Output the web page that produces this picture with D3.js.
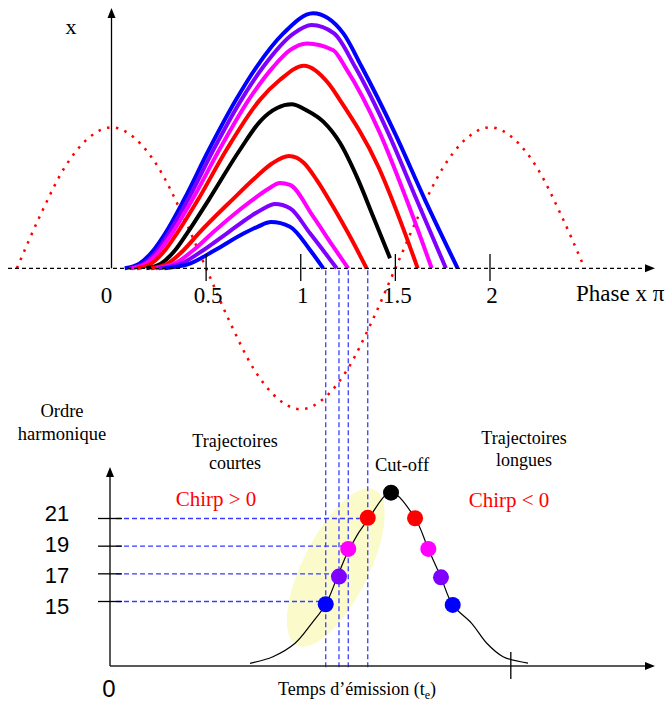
<!DOCTYPE html>
<html>
<head>
<meta charset="utf-8">
<script src="https://cdn.jsdelivr.net/npm/d3@7"></script>
<style>
  body { margin: 0; background: #fff; }
</style>
</head>
<body>
<script>
// ---- top panel data (phase in units of pi, x in units of field amplitude)
const phaseTicks = [0.5, 1, 1.5, 2];
const phaseLabels = ["0", "0.5", "1", "1.5", "2"];
const phaseLabelPos = [0, 0.5, 1, 1.5, 2];

const fieldPhase = [-0.5, -0.375, -0.25, -0.125, 0, 0.125, 0.25, 0.375, 0.5, 0.625, 0.75, 0.875, 1,
  1.125, 1.25, 1.375, 1.5, 1.625, 1.75, 1.875, 2, 2.125, 2.25, 2.375, 2.5];
const fieldValue = [0, 0.38, 0.71, 0.92, 1, 0.92, 0.71, 0.38, 0, -0.38, -0.71, -0.92, -1,
  -0.92, -0.71, -0.38, 0, 0.38, 0.71, 0.92, 1, 0.92, 0.71, 0.38, 0];

// electron trajectories [phase, x], long ones first, then cut-off, then short ones
const longBlue = [[0.07, 0], [0.147, 0.033], [0.223, 0.13], [0.284, 0.248], [0.382, 0.484], [0.514, 0.839],
  [0.657, 1.193], [0.767, 1.429], [0.908, 1.666], [1.065, 1.808], [1.225, 1.666], [1.322, 1.429],
  [1.498, 0.957], [1.657, 0.484], [1.829, 0]];
const longPurple = [[0.095, 0], [0.17, 0.033], [0.244, 0.13], [0.302, 0.248], [0.403, 0.484], [0.538, 0.839],
  [0.685, 1.193], [0.802, 1.429], [0.963, 1.666], [1.057, 1.725], [1.176, 1.666], [1.287, 1.429],
  [1.463, 0.957], [1.613, 0.484], [1.767, 0]];
const longMagenta = [[0.108, 0], [0.183, 0.033], [0.258, 0.13], [0.32, 0.248], [0.426, 0.484], [0.569, 0.839],
  [0.724, 1.193], [0.855, 1.429], [0.943, 1.547], [1.033, 1.595], [1.172, 1.547], [1.234, 1.429],
  [1.419, 0.957], [1.56, 0.484], [1.692, 0]];
const longRed = [[0.134, 0], [0.209, 0.033], [0.284, 0.13], [0.346, 0.248], [0.456, 0.484], [0.607, 0.839],
  [0.783, 1.193], [0.889, 1.335], [1.017, 1.437], [1.146, 1.312], [1.207, 1.193], [1.41, 0.72],
  [1.551, 0.248], [1.618, 0]];
const cutoffBlack = [[0.184, 0], [0.261, 0.033], [0.337, 0.13], [0.399, 0.248], [0.513, 0.484], [0.678, 0.839],
  [0.789, 1.048], [0.875, 1.137], [0.951, 1.163], [1.031, 1.12], [1.119, 1.04], [1.207, 0.89],
  [1.296, 0.65], [1.383, 0.366], [1.472, 0.071]];
const shortRed = [[0.209, 0], [0.296, 0.033], [0.382, 0.13], [0.461, 0.248], [0.642, 0.491], [0.758, 0.64],
  [0.848, 0.743], [0.938, 0.796], [1.017, 0.747], [1.084, 0.627], [1.172, 0.434], [1.251, 0.248], [1.348, 0]];
const shortMagenta = [[0.234, 0], [0.334, 0.033], [0.434, 0.13], [0.531, 0.248], [0.637, 0.371], [0.742, 0.481],
  [0.827, 0.562], [0.89, 0.605], [0.943, 0.591], [1.066, 0.366], [1.172, 0.153], [1.251, 0]];
const shortPurple = [[0.25, 0], [0.368, 0.033], [0.487, 0.13], [0.61, 0.248], [0.732, 0.366], [0.795, 0.417],
  [0.864, 0.456], [0.943, 0.426], [1.049, 0.248], [1.19, 0]];
const shortBlue = [[0.28, 0], [0.414, 0.033], [0.548, 0.13], [0.7, 0.248], [0.774, 0.296], [0.843, 0.328],
  [0.943, 0.295], [1.049, 0.13], [1.119, 0]];

const trajectories = [longBlue, longPurple, longMagenta, longRed, cutoffBlack, shortRed, shortMagenta, shortPurple, shortBlue];
const trajColors = ["#0000ff", "#8000ff", "#ff00ff", "#ff0000", "#000000", "#ff0000", "#ff00ff", "#8000ff", "#0000ff"];

// ---- bottom panel data (emission time in phase units, harmonic order)
const harmonicOrders = [15, 17, 19, 21];
const harmonicColors = ["#0000ff", "#8000ff", "#ff00ff", "#ff0000"];
const shortTimes = [1.132, 1.202, 1.251, 1.354];
const shortOrders = [14.8, 16.8, 18.8, 21.05];
const longTimes = [1.803, 1.741, 1.674, 1.604];
const longOrders = [14.75, 16.75, 18.8, 21.02];
const cutoffTime = 1.477;
const cutoffOrder = 22.87;
const envelopeTime = [0.732, 0.853, 0.97, 1.058, 1.133, 1.195, 1.257, 1.361, 1.477,
  1.604, 1.674, 1.741, 1.803, 1.903, 1.983, 2.069, 2.201];
const envelopeOrder = [10.53, 11.01, 11.98, 13.42, 14.82, 16.84, 18.82, 21.06, 22.87,
  21.02, 18.8, 16.75, 14.75, 13.42, 11.98, 11.01, 10.55];
const timeTicks = [2.11];

const W = 668, H = 704;
const serif = "'Liberation Serif', 'Times New Roman', serif";
const sans = "'Liberation Sans', Arial, sans-serif";

const svg = d3.select("body").append("svg")
  .attr("width", W).attr("height", H)
  .attr("xmlns", "http://www.w3.org/2000/svg");

const x = d3.scaleLinear().domain([0, 2]).range([111.5, 490]);
const yTop = d3.scaleLinear().domain([-1, 1]).range([409.3, 127.3]);
const yHarm = d3.scaleLinear().domain([15, 21]).range([601.5, 518.5]);
const yHarmLabel = d3.scaleLinear().domain([15, 21]).range([613.5, 520.5]);
const axisTop = yTop(0);
const axisBottom = 666;
const yAxisBottomX = 110;

function arrow(g, tx, ty, dir) {
  const pts = dir === "up"
    ? [[tx, ty], [tx - 4, ty + 10], [tx + 4, ty + 10]]
    : [[tx, ty], [tx - 10, ty - 4], [tx - 10, ty + 4]];
  g.append("polygon").attr("points", pts.map(p => p.join(",")).join(" ")).attr("fill", "#000");
}

// ---------- top panel
const gTop = svg.append("g");

const lineXY = d3.line()
  .x(d => x(d[0]))
  .y(d => yTop(d[1]))
  .curve(d3.curveMonotoneX);

gTop.append("path")
  .attr("d", lineXY(fieldPhase.map((p, i) => [p, fieldValue[i]])))
  .attr("fill", "none")
  .attr("stroke", "#ff0000")
  .attr("stroke-width", 2.5)
  .attr("stroke-dasharray", "2.5,6.5");

gTop.selectAll("path.traj")
  .data(trajectories)
  .enter()
  .append("path")
  .attr("class", "traj")
  .attr("d", d => lineXY(d))
  .attr("fill", "none")
  .attr("stroke", (d, i) => trajColors[i])
  .attr("stroke-width", 4)
  .attr("stroke-linecap", "butt");

// dashed phase axis
gTop.append("line")
  .attr("x1", 8).attr("x2", 646)
  .attr("y1", axisTop).attr("y2", axisTop)
  .attr("stroke", "#000").attr("stroke-width", 1.3)
  .attr("stroke-dasharray", "4,3");
arrow(gTop, 655, axisTop, "right");

// vertical x axis
gTop.append("line")
  .attr("x1", x(0)).attr("x2", x(0))
  .attr("y1", axisTop).attr("y2", 16)
  .attr("stroke", "#000").attr("stroke-width", 1.3);
arrow(gTop, x(0), 8, "up");

gTop.selectAll("line.ptick")
  .data(phaseTicks)
  .enter()
  .append("line")
  .attr("class", "ptick")
  .attr("x1", d => x(d)).attr("x2", d => x(d))
  .attr("y1", 254).attr("y2", 281)
  .attr("stroke", "#000").attr("stroke-width", 1.3);

gTop.selectAll("text.plabel")
  .data(phaseLabelPos)
  .enter()
  .append("text")
  .attr("class", "plabel")
  .attr("x", d => x(d) + (d === 0 ? -5 : 2))
  .attr("y", 303)
  .attr("text-anchor", "middle")
  .attr("font-family", serif)
  .attr("font-size", "23px")
  .text((d, i) => phaseLabels[i]);

gTop.append("text")
  .attr("x", 576).attr("y", 301)
  .attr("font-family", serif).attr("font-size", "23px")
  .text("Phase x π");

gTop.append("text")
  .attr("x", 71).attr("y", 34)
  .attr("text-anchor", "middle")
  .attr("font-family", serif).attr("font-size", "22px")
  .text("x");

// ---------- bottom panel
const gBot = svg.append("g");

// short trajectory ellipse
const ellC = [1.185, 17.46];
gBot.append("ellipse")
  .attr("cx", x(ellC[0])).attr("cy", yHarm(ellC[1]))
  .attr("rx", 33).attr("ry", 87)
  .attr("transform", `rotate(26.6, ${x(ellC[0])}, ${yHarm(ellC[1])})`)
  .attr("fill", "#fafacb");

// vertical dashed lines from top returns down to time axis
gBot.selectAll("line.vdash")
  .data(shortTimes)
  .enter()
  .append("line")
  .attr("class", "vdash")
  .attr("x1", d => x(d)).attr("x2", d => x(d))
  .attr("y1", axisTop + 2).attr("y2", axisBottom + 2)
  .attr("stroke", "#3c3cff").attr("stroke-width", 1.3)
  .attr("stroke-dasharray", "5,3");

// horizontal dashed lines from harmonic ticks to short dots
gBot.selectAll("line.hdash")
  .data(harmonicOrders)
  .enter()
  .append("line")
  .attr("class", "hdash")
  .attr("x1", 116).attr("x2", (d, i) => x(shortTimes[i]))
  .attr("y1", d => yHarm(d)).attr("y2", d => yHarm(d))
  .attr("stroke", "#3c3cff").attr("stroke-width", 1.3)
  .attr("stroke-dasharray", "5,3");

// envelope curve
const lineHarm = d3.line()
  .x(d => x(d[0]))
  .y(d => yHarm(d[1]))
  .curve(d3.curveCatmullRom.alpha(0.5));

gBot.append("path")
  .attr("d", lineHarm(envelopeTime.map((t, i) => [t, envelopeOrder[i]])))
  .attr("fill", "none")
  .attr("stroke", "#000")
  .attr("stroke-width", 1.2);

// axes
gBot.append("line")
  .attr("x1", yAxisBottomX).attr("x2", 646)
  .attr("y1", axisBottom).attr("y2", axisBottom)
  .attr("stroke", "#222").attr("stroke-width", 1.5);
arrow(gBot, 655, axisBottom, "right");
gBot.append("line")
  .attr("x1", yAxisBottomX).attr("x2", yAxisBottomX)
  .attr("y1", axisBottom).attr("y2", 476)
  .attr("stroke", "#222").attr("stroke-width", 1.5);
arrow(gBot, yAxisBottomX, 467, "up");

gBot.selectAll("line.ttick")
  .data(timeTicks)
  .enter()
  .append("line")
  .attr("class", "ttick")
  .attr("x1", d => x(d)).attr("x2", d => x(d))
  .attr("y1", 652).attr("y2", 679)
  .attr("stroke", "#000").attr("stroke-width", 1.3);

gBot.selectAll("line.htick")
  .data(harmonicOrders)
  .enter()
  .append("line")
  .attr("class", "htick")
  .attr("x1", 98).attr("x2", 122)
  .attr("y1", d => yHarm(d)).attr("y2", d => yHarm(d))
  .attr("stroke", "#000").attr("stroke-width", 1.3);

gBot.selectAll("text.hlabel")
  .data(harmonicOrders)
  .enter()
  .append("text")
  .attr("class", "hlabel")
  .attr("x", 57)
  .attr("y", d => yHarmLabel(d))
  .attr("text-anchor", "middle")
  .attr("font-family", sans)
  .attr("font-size", "22px")
  .text(d => d);

gBot.append("text")
  .attr("x", 109).attr("y", 697)
  .attr("text-anchor", "middle")
  .attr("font-family", sans).attr("font-size", "24px")
  .text("0");

// dots
gBot.selectAll("circle.short")
  .data(harmonicOrders)
  .enter()
  .append("circle")
  .attr("class", "short")
  .attr("cx", (d, i) => x(shortTimes[i]))
  .attr("cy", (d, i) => yHarm(shortOrders[i]))
  .attr("r", 8)
  .attr("fill", (d, i) => harmonicColors[i]);

gBot.selectAll("circle.long")
  .data(harmonicOrders)
  .enter()
  .append("circle")
  .attr("class", "long")
  .attr("cx", (d, i) => x(longTimes[i]))
  .attr("cy", (d, i) => yHarm(longOrders[i]))
  .attr("r", 8)
  .attr("fill", (d, i) => harmonicColors[i]);

gBot.append("circle")
  .attr("cx", x(cutoffTime)).attr("cy", yHarm(cutoffOrder))
  .attr("r", 8).attr("fill", "#000");

// labels
function label(lines, cx, y0, dy, size, color) {
  const t = gBot.append("text")
    .attr("text-anchor", "middle")
    .attr("font-family", serif)
    .attr("font-size", size)
    .attr("fill", color || "#000");
  lines.forEach((s, i) => {
    t.append("tspan").attr("x", cx).attr("y", y0 + i * dy).text(s);
  });
}
label(["Ordre", "harmonique"], 62, 417, 23, "18.5px");
label(["Trajectoires", "courtes"], 235, 447, 22, "18px");
label(["Trajectoires", "longues"], 524, 444, 22, "18px");
label(["Chirp > 0"], 216, 506, 0, "21px", "#ff0000");
label(["Chirp < 0"], 509, 507, 0, "21px", "#ff0000");
label(["Cut-off"], 402, 471, 0, "18.5px");

const tt = gBot.append("text")
  .attr("x", 357).attr("y", 695)
  .attr("text-anchor", "middle")
  .attr("font-family", serif).attr("font-size", "18px");
tt.append("tspan").text("Temps d’émission (t");
tt.append("tspan").attr("font-size", "12px").attr("dy", 4).text("e");
tt.append("tspan").attr("dy", -4).text(")");
</script>
</body>
</html>
